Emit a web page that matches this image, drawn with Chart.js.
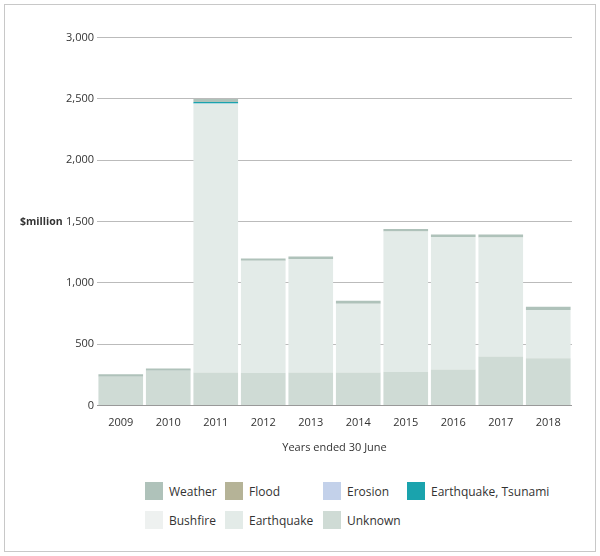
<!DOCTYPE html>
<html><head><meta charset="utf-8">
<script src="https://cdn.jsdelivr.net/npm/chart.js@4"></script>
<style>
body{margin:0;background:#fff;font-family:"Open Sans",sans-serif;}
#frame{position:absolute;left:4px;top:4px;width:590px;height:546px;border:1px solid #c8c8c8;}
#wrap{position:absolute;left:22px;top:28px;width:550px;height:430px;}
#ylab{position:absolute;left:20px;top:214px;font-size:10.5px;font-weight:bold;color:#333;}
.leg{position:absolute;font-size:12px;color:#333;display:flex;align-items:center;}
.sw{width:18px;height:18px;margin-right:6px;display:inline-block;}
</style></head><body>
<div id="frame"></div>
<div id="wrap"><canvas id="c"></canvas></div>
<div id="ylab">$million</div>
<div id="legend"></div>
<script>
const years=['2009','2010','2011','2012','2013','2014','2015','2016','2017','2018'];
const unknown=[235,285,270,265,270,270,275,295,400,385];
const earthquake=[0,0,2190,915,925,560,1145,1080,970,395];
const bushfire=[0,0,0,0,0,0,0,0,0,0];
const erosion=[0,0,3,0,0,0,0,0,0,0];
const tsunami=[0,0,12,0,0,0,0,0,0,0];
const flood=[0,0,0,0,0,0,0,0,0,0];
const weather=[20,18,25,20,20,25,20,20,25,25];
const series=[
 ['Unknown',unknown,'#cfdbd5'],
 ['Earthquake',earthquake,'#e3ebe8'],
 ['Bushfire',bushfire,'#eef1f0'],
 ['Erosion',erosion,'#c3d1ea'],
 ['Earthquake, Tsunami',tsunami,'#1aa3ad'],
 ['Flood',flood,'#b5b397'],
 ['Weather',weather,'#afc2ba']];
new Chart(document.getElementById('c'),{type:'bar',
 data:{labels:years,datasets:series.map(s=>({label:s[0],data:s[1],backgroundColor:s[2],barPercentage:0.94,categoryPercentage:1}))},
 options:{responsive:true,maintainAspectRatio:false,animation:false,
  layout:{padding:{left:0,right:0,top:8}},
  plugins:{legend:{display:false},tooltip:{enabled:false}},
  scales:{x:{stacked:true,grid:{display:false},border:{color:'#999'},ticks:{color:'#333',font:{family:'Open Sans',size:11}},
    title:{display:true,text:'Years ended 30 June',color:'#333',font:{family:'Open Sans',size:11},padding:{top:8}}},
   y:{stacked:true,min:0,max:3000,afterFit:a=>{a.width=75},ticks:{stepSize:500,color:'#333',font:{family:'Open Sans',size:11},callback:v=>v.toLocaleString('en-US')},
    grid:{color:'#bbb',drawTicks:false},border:{display:false}}}}});
const legItems=[['Weather','#afc2ba',145,482],['Flood','#b5b397',225,482],['Erosion','#c3d1ea',323,482],['Earthquake, Tsunami','#1aa3ad',407,482],
 ['Bushfire','#eef1f0',145,511],['Earthquake','#e3ebe8',225,511],['Unknown','#cfdbd5',323,511]];
document.getElementById('legend').innerHTML=legItems.map(l=>`<div class="leg" style="left:${l[2]}px;top:${l[3]}px"><span class="sw" style="background:${l[1]}"></span>${l[0]}</div>`).join('');
</script></body></html>
